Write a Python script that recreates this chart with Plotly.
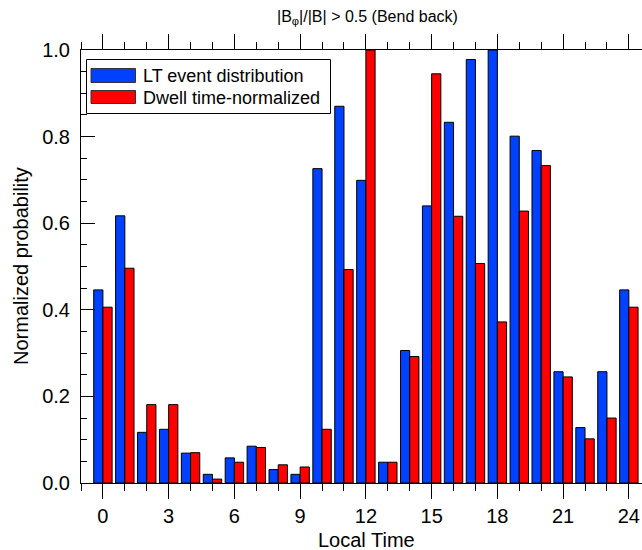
import plotly.graph_objects as go

# Local-time bins (hours)
local_time = list(range(25))
tick_hours = [0, 3, 6, 9, 12, 15, 18, 21, 24]

# Normalized probabilities per local-time bin
lt_event_distribution = [0.446, 0.617, 0.117, 0.124, 0.069, 0.020, 0.058, 0.085, 0.031,
                         0.020, 0.726, 0.870, 0.699, 0.048, 0.306, 0.640, 0.833, 0.978,
                         1.000, 0.801, 0.768, 0.257, 0.128, 0.257, 0.446]
dwell_time_normalized = [0.406, 0.496, 0.181, 0.181, 0.070, 0.009, 0.048, 0.082, 0.042,
                         0.037, 0.124, 0.493, 1.000, 0.048, 0.292, 0.945, 0.616, 0.507,
                         0.372, 0.628, 0.733, 0.245, 0.102, 0.150, 0.406]

series_names = ["LT event distribution", "Dwell time-normalized"]
BLUE = "rgb(0,64,255)"
RED = "rgb(255,0,0)"
FONT = "Liberation Sans, Arial, Helvetica, sans-serif"

W, H = 642, 550
L, R, T, B = 81, 0, 50, 67
PW, PH = W - L - R, H - T - B


def px_x(p):
    return (p - L) / PW


def px_y(p):
    return (H - B - p) / PH


fig = go.Figure()
fig.add_trace(go.Bar(x=local_time, y=lt_event_distribution, name=series_names[0],
                     marker=dict(color=BLUE, line=dict(color="black", width=1)),
                     showlegend=False))
fig.add_trace(go.Bar(x=local_time, y=dwell_time_normalized, name=series_names[1],
                     marker=dict(color=RED, line=dict(color="black", width=1)),
                     showlegend=False))

# Hand-drawn legend box with wide swatches
shapes = [
    dict(type="rect", xref="paper", yref="paper",
         x0=px_x(86.5), x1=px_x(330.5), y0=px_y(113.5), y1=px_y(59.5),
         line=dict(color="black", width=1), fillcolor="white", layer="above"),
    dict(type="rect", xref="paper", yref="paper",
         x0=px_x(91), x1=px_x(135.5), y0=px_y(82.5), y1=px_y(68.5),
         line=dict(color="#333", width=1), fillcolor=BLUE, layer="above"),
    dict(type="rect", xref="paper", yref="paper",
         x0=px_x(91), x1=px_x(135.5), y0=px_y(103.5), y1=px_y(90.5),
         line=dict(color="#333", width=1), fillcolor=RED, layer="above"),
]
annotations = [
    dict(text=series_names[0], xref="paper", yref="paper", x=px_x(141), y=px_y(76),
         xanchor="left", yanchor="middle", showarrow=False,
         font=dict(family=FONT, size=18, color="black")),
    dict(text=series_names[1], xref="paper", yref="paper", x=px_x(141), y=px_y(98),
         xanchor="left", yanchor="middle", showarrow=False,
         font=dict(family=FONT, size=18, color="black")),
    # title
    dict(text="|B<sub>φ</sub>|/|B| > 0.5 (Bend back)", xref="paper", yref="paper",
         x=px_x(367), y=px_y(18), xanchor="center", yanchor="middle", showarrow=False,
         font=dict(family=FONT, size=16, color="black")),
    # axis titles
    dict(text="Local Time", xref="paper", yref="paper", x=px_x(366), y=px_y(540),
         xanchor="center", yanchor="middle", showarrow=False,
         font=dict(family=FONT, size=20, color="black")),
    dict(text="Normalized probability", xref="paper", yref="paper", x=px_x(21), y=px_y(266),
         xanchor="center", yanchor="middle", showarrow=False, textangle=-90,
         font=dict(family=FONT, size=20, color="black")),
]

fig.update_layout(
    width=W, height=H,
    margin=dict(l=L, r=R, t=T, b=B, pad=0),
    paper_bgcolor="white", plot_bgcolor="white",
    barmode="group", bargap=0.16, bargroupgap=0,
    font=dict(family=FONT, size=20, color="black"),
    shapes=shapes, annotations=annotations,
    xaxis=dict(range=[-1, 24.6], tickmode="array", tickvals=tick_hours,
               ticktext=[str(h) for h in tick_hours],
               ticks="outside", ticklen=15, tickwidth=1, tickcolor="black",
               minor=dict(dtick=1, tick0=0, ticks="outside", ticklen=7,
                          tickwidth=1, tickcolor="black"),
               showline=True, linecolor="black", linewidth=1, mirror="allticks",
               showgrid=False, zeroline=False,
               tickfont=dict(family=FONT, size=20, color="black")),
    yaxis=dict(range=[0, 1], dtick=0.2, tick0=0, tickformat=".1f",
               ticks="inside", ticklen=14, tickwidth=1, tickcolor="black",
               minor=dict(dtick=0.05, tick0=0, ticks="inside", ticklen=6,
                          tickwidth=1, tickcolor="black"),
               showline=True, linecolor="black", linewidth=1, mirror=False,
               showgrid=False, zeroline=False, ticklabelstandoff=6,
               tickfont=dict(family=FONT, size=20, color="black")),
    yaxis2=dict(range=[0, 1], overlaying="y", side="right", anchor="x",
                dtick=0.2, tick0=0, ticks="inside", ticklen=5, tickwidth=1,
                tickcolor="black", showticklabels=False, showline=False,
                showgrid=False, zeroline=False),
)

fig.write_html("out.html")
